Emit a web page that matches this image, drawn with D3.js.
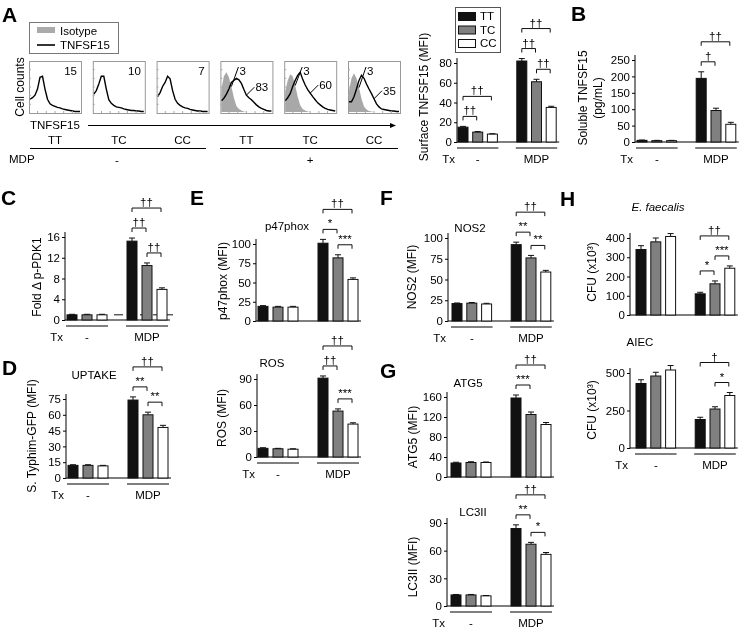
<!DOCTYPE html>
<html><head><meta charset="utf-8">
<script src="https://cdn.jsdelivr.net/npm/d3@7"></script>
<style>body{margin:0;background:#fff} svg{filter:grayscale(100%)} svg text{font-family:"Liberation Sans",Arial,Helvetica,sans-serif;fill:#000}</style>
</head><body><svg id="c" width="741" height="630"></svg>
<script>
// ---------------- DATA ----------------
const genotypes = ["TT","TC","CC"];
const treatments = ["-","MDP"];
// Panel A histograms (relative cell counts on 21 evenly spaced fluorescence bins)
const histGenotype = ["TT","TC","CC","TT","TC","CC"];
const histMDP = ["-","+"];
const histTnf = [
  [0.25,0.28,0.33,0.45,0.68,0.70,0.45,0.25,0.16,0.13,0.11,0.09,0.08,0.06,0.05,0.04,0.03,0.02,0.01,0.01,0.01],
  [0.35,0.42,0.55,0.70,0.70,0.45,0.24,0.17,0.13,0.10,0.09,0.08,0.06,0.05,0.04,0.03,0.03,0.02,0.02,0.01,0.01],
  [0.30,0.38,0.50,0.58,0.70,0.65,0.42,0.25,0.17,0.13,0.10,0.08,0.07,0.05,0.04,0.03,0.02,0.02,0.01,0.01,0.01],
  [0.22,0.27,0.35,0.45,0.58,0.62,0.66,0.63,0.56,0.44,0.33,0.28,0.24,0.19,0.14,0.10,0.07,0.05,0.03,0.02,0.02],
  [0.22,0.28,0.36,0.50,0.62,0.72,0.78,0.64,0.53,0.44,0.37,0.30,0.24,0.18,0.14,0.10,0.07,0.05,0.04,0.03,0.02],
  [0.20,0.20,0.30,0.45,0.62,0.72,0.66,0.55,0.45,0.36,0.26,0.16,0.10,0.06,0.05,0.04,0.03,0.02,0.02,0.01,0.01]
];
const histIso = [
  null, null, null,
  [0.45,0.70,0.78,0.68,0.50,0.28,0.12,0.06,0.03,0.01,0,0,0,0,0,0,0,0,0,0,0],
  [0.40,0.62,0.74,0.70,0.52,0.30,0.13,0.06,0.03,0.01,0,0,0,0,0,0,0,0,0,0,0],
  [0.42,0.66,0.76,0.66,0.48,0.26,0.11,0.05,0.02,0.01,0,0,0,0,0,0,0,0,0,0,0]
];
const histPctTnf = [15,10,7,83,60,35];
const histPctIso = [null,null,null,3,3,3];

// Bar panels: order TT,TC,CC (untreated) then TT,TC,CC (MDP)
const surfaceMean = [15,10,8,82,61,35];
const surfaceErr  = [0.8,0.6,0.4,2.5,2.5,1.2];
const surfaceTicks = [0,20,40,60,80];
const surfaceSig = [[0,1,"††"],[0,2,"††"],[3,4,"††"],[3,5,"††"],[4,5,"††"]];

const solubleMean = [5,4,4,194,96,54];
const solubleErr  = [1,1,1,20,7,6];
const solubleTicks = [0,50,100,150,200,250];
const solubleSig = [[3,4,"†"],[3,5,"††"]];

const pdk1Mean = [1,1,1,15.2,10.5,5.9];
const pdk1Err  = [0.1,0.1,0.1,0.6,0.5,0.3];
const pdk1Ticks = [0,4,8,12,16];
const pdk1Ref = 1;
const pdk1Sig = [[3,4,"††"],[4,5,"††"],[3,5,"††"]];

const uptakeMean = [12,12,11.5,74,60,48];
const uptakeErr  = [0.6,0.6,0.5,3,2.5,2];
const uptakeTicks = [0,15,30,45,60,75];
const uptakeSig = [[3,4,"**"],[4,5,"**"],[3,5,"††"]];

const p47Mean = [19,18,18,101,82,54];
const p47Err  = [1,1,1,5,4,2];
const p47Ticks = [0,25,50,75,100];
const p47Sig = [[3,4,"*"],[4,5,"***"],[3,5,"††"]];

const rosMean = [10,9.5,9,91,53,38];
const rosErr  = [0.7,0.5,0.5,2.5,2.5,1.5];
const rosTicks = [0,30,60,90];
const rosSig = [[3,4,"††"],[4,5,"***"],[3,5,"††"]];

const nos2Mean = [21,21.5,20.5,92,76,59];
const nos2Err  = [0.7,0.8,0.8,3,3,2];
const nos2Ticks = [0,25,50,75,100];
const nos2Sig = [[3,4,"**"],[4,5,"**"],[3,5,"††"]];

const atg5Mean = [28,29,29,158,125,105];
const atg5Err  = [1.5,1.5,1,6,5,4];
const atg5Ticks = [0,40,80,120,160];
const atg5Sig = [[3,4,"***"],[3,5,"††"]];

const lc3Mean = [12,12,11,84,67,56];
const lc3Err  = [0.5,0.5,0.4,4,2,2];
const lc3Ticks = [0,30,60,90];
const lc3Sig = [[3,4,"**"],[4,5,"*"],[3,5,"††"]];

const efMean = [340,380,408,110,162,243];
const efErr  = [20,20,15,8,15,12];
const efTicks = [0,100,200,300,400];
const efSig = [[3,4,"*"],[4,5,"***"],[3,5,"††"]];

const aiecMean = [430,480,520,190,260,350];
const aiecErr  = [25,25,30,15,15,20];
const aiecTicks = [0,250,500];
const aiecSig = [[4,5,"*"],[3,5,"†"]];

// ---------------- DRAWING ----------------
const svg = d3.select("#c");
svg.append("rect").attr("width",741).attr("height",630).attr("fill","#fff");
const FILL = ["#111","#808080","#fff"];

function letter(t,x,y){ svg.append("text").attr("x",x).attr("y",y).text(t)
  .style("font-size","21px").style("font-weight","bold"); }

function ylabel(lines,xs,cy){
  lines.forEach((t,k)=>{
    svg.append("text").attr("transform",`translate(${xs[k]},${cy}) rotate(-90)`)
      .attr("text-anchor","middle").attr("dy","0.35em").style("font-size","12px").text(t);
  });
}

function barPanel(o){
  const g = svg.append("g");
  const top = d3.max(o.ticks);
  const y = d3.scaleLinear().domain([0,top]).range([o.base,o.top]);
  const slots = d3.range(6).map(i=> i<3? i : i+1);
  const x = d3.scaleLinear().domain([0,1]).range([o.x0,o.x0+o.step]);
  const bw = 10;
  const xl = i => x(slots[i]);
  const right = xl(5)+bw+3;
  if(o.ref!==undefined){
    g.append("line").attr("x1",x(3)+2).attr("x2",right+3).attr("y1",y(o.ref)).attr("y2",y(o.ref))
      .attr("stroke","#111").attr("stroke-width",1).attr("stroke-dasharray","9,4");
  }
  const ax = g.append("g").attr("transform",`translate(${o.ax},0)`)
    .call(d3.axisLeft(y).tickValues(o.ticks).tickSize(3).tickPadding(2).tickSizeOuter(0));
  ax.select(".domain").remove();
  ax.selectAll("text").style("font-size","11.5px").attr("fill","#000")
    .style("font-family","'Liberation Sans',Arial,sans-serif");
  ax.selectAll("line").attr("stroke","#000");
  g.append("line").attr("x1",o.ax).attr("x2",o.ax).attr("y1",o.base+0.5).attr("y2",o.top-5).attr("stroke","#000");
  g.append("line").attr("x1",o.ax).attr("x2",right).attr("y1",o.base).attr("y2",o.base).attr("stroke","#000").attr("stroke-width",1.2);
  o.mean.forEach((v,i)=>{
    g.append("rect").attr("x",xl(i)).attr("y",y(v)).attr("width",bw).attr("height",o.base-y(v))
      .attr("fill",FILL[i%3]).attr("stroke","#111").attr("stroke-width",1);
    const yt = y(v+o.err[i]), cx = xl(i)+bw/2;
    g.append("line").attr("x1",cx).attr("x2",cx).attr("y1",y(v)).attr("y2",yt).attr("stroke","#111");
    g.append("line").attr("x1",cx-3).attr("x2",cx+3).attr("y1",yt).attr("y2",yt).attr("stroke","#111");
  });
  const tops = o.mean.map((v,i)=>y(v+o.err[i]));
  const placed = [];
  o.sig.slice().sort((a,b)=>(a[1]-a[0])-(b[1]-b[0])).forEach(([i,j,lab])=>{
    let yy = d3.min(d3.range(i,j+1),k=>tops[k]) - 10;
    placed.forEach(p=>{ if(p.i>=i && p.j<=j) yy = Math.min(yy,p.y-20); });
    placed.push({i,j,y:yy});
    const x1 = xl(i)+5, x2 = xl(j)+4;
    g.append("path").attr("d",`M${x1},${yy+4}V${yy}H${x2}V${yy+4}`).attr("fill","none").attr("stroke","#111");
    g.append("text").attr("x",(x1+x2)/2).attr("y",yy-2).attr("text-anchor","middle")
      .style("font-size","11.5px").text(lab);
  });
  if(o.tx){
    [0,1].forEach(gi=>{
      const a = xl(gi*3)-1, b = xl(gi*3+2)+bw+1;
      g.append("line").attr("x1",a).attr("x2",b).attr("y1",o.base+6).attr("y2",o.base+6).attr("stroke","#000");
      g.append("text").attr("x",(a+b)/2).attr("y",o.base+21).attr("text-anchor","middle")
        .style("font-size","11.5px").text(treatments[gi]);
    });
    g.append("text").attr("x",o.ax-2).attr("y",o.base+21).attr("text-anchor","end").style("font-size","11.5px").text("Tx");
  }
  if(o.title){
    g.append("text").attr("x",o.title[1]).attr("y",o.title[2]).attr("text-anchor","middle")
      .style("font-size","11.5px").style("font-style",o.italic?"italic":"normal").text(o.title[0]);
  }
  ylabel(o.ylab,o.ylx,o.ylc);
}

// ---------- Panel A histograms ----------
letter("A",2,22);
svg.append("rect").attr("x",29.5).attr("y",22.5).attr("width",89).attr("height",31).attr("fill","none").attr("stroke","#777");
svg.append("rect").attr("x",37).attr("y",27).attr("width",18).attr("height",6).attr("fill","#aaa");
svg.append("text").attr("x",60).attr("y",35).style("font-size","11.5px").text("Isotype");
svg.append("line").attr("x1",37).attr("x2",55).attr("y1",45).attr("y2",45).attr("stroke","#000").attr("stroke-width",1.6);
svg.append("text").attr("x",60).attr("y",49).style("font-size","11.5px").text("TNFSF15");

const boxW = 52, boxH = 52, boxTop = 61;
const boxLeft = i => 29 + i*63.8;
histTnf.forEach((arr,i)=>{
  const L = boxLeft(i);
  const hx = d3.scaleLinear().domain([0,arr.length-1]).range([L+1,L+boxW-1]);
  const hy = d3.scaleLinear().domain([0,1]).range([boxTop+boxH-1,boxTop]);
  const g = svg.append("g");
  if(histIso[i]){
    g.append("path").datum(histIso[i]).attr("fill","#a8a8a8")
      .attr("d",d3.area().x((d,k)=>hx(k)).y0(hy(0)).y1(d=>hy(d)));
  }
  g.append("path").datum(arr).attr("fill","none").attr("stroke","#000").attr("stroke-width",1.4)
    .attr("d",d3.line().x((d,k)=>hx(k)).y(d=>hy(d)));
  g.append("rect").attr("x",L+0.5).attr("y",boxTop+0.5).attr("width",boxW).attr("height",boxH)
    .attr("fill","none").attr("stroke","#999");
  d3.range(1,6).forEach(k=>{
    g.append("line").attr("x1",L+k*boxW/6).attr("x2",L+k*boxW/6).attr("y1",boxTop+boxH).attr("y2",boxTop+boxH-2).attr("stroke","#aaa");
    g.append("line").attr("x1",L).attr("x2",L+2).attr("y1",boxTop+k*boxH/6).attr("y2",boxTop+k*boxH/6).attr("stroke","#aaa");
  });
  if(histPctIso[i]===null){
    g.append("text").attr("x",L+boxW-4).attr("y",boxTop+14).attr("text-anchor","end").style("font-size","11.5px").text(histPctTnf[i]);
  } else {
    const ix = hx(4), iy = hy(histIso[i][4]);
    g.append("line").attr("x1",ix).attr("y1",iy).attr("x2",L+18).attr("y2",boxTop+6).attr("stroke","#000");
    g.append("text").attr("x",L+19).attr("y",boxTop+14).style("font-size","11.5px").text(histPctIso[i]);
    const k = 10, tx0 = hx(k), ty0 = hy(arr[k]);
    g.append("line").attr("x1",tx0).attr("y1",ty0).attr("x2",tx0+8).attr("y2",ty0-8).attr("stroke","#000");
    g.append("text").attr("x",tx0+9).attr("y",ty0-4).style("font-size","11.5px").text(histPctTnf[i]);
  }
  svg.append("text").attr("x",L+boxW/2).attr("y",144).attr("text-anchor","middle").style("font-size","11.5px").text(histGenotype[i]);
});
svg.append("text").attr("transform","translate(20,87) rotate(-90)").attr("text-anchor","middle").attr("dy","0.35em").style("font-size","12px").text("Cell counts");
svg.append("text").attr("x",30).attr("y",129).style("font-size","11.5px").text("TNFSF15");
svg.append("line").attr("x1",88).attr("x2",393).attr("y1",125.5).attr("y2",125.5).attr("stroke","#000");
svg.append("path").attr("d","M396,125.5 L390,123 L390,128 Z").attr("fill","#000");
[[30,206,117],[220,398,310]].forEach(([a,b,c],gi)=>{
  svg.append("line").attr("x1",a).attr("x2",b).attr("y1",148.5).attr("y2",148.5).attr("stroke","#000");
  svg.append("text").attr("x",c).attr("y",164).attr("text-anchor","middle").style("font-size","11.5px").text(histMDP[gi]);
});
svg.append("text").attr("x",9).attr("y",163).style("font-size","11.5px").text("MDP");

svg.append("rect").attr("x",455.5).attr("y",7.5).attr("width",45).attr("height",45).attr("fill","#fff").attr("stroke","#555");
genotypes.forEach((gname,i)=>{
  svg.append("rect").attr("x",458.5).attr("y",12.5+i*13.5).attr("width",17).attr("height",8).attr("fill",FILL[i]).attr("stroke","#111");
  svg.append("text").attr("x",480).attr("y",20+i*13.5).style("font-size","11.5px").text(gname);
});

barPanel({mean:surfaceMean,err:surfaceErr,ticks:surfaceTicks,sig:surfaceSig,ax:457,base:142,top:63,x0:458,step:14.7,tx:true,
  ylab:["Surface TNFSF15 (MFI)"],ylx:[424],ylc:97});
letter("B",571,21);
barPanel({mean:solubleMean,err:solubleErr,ticks:solubleTicks,sig:solubleSig,ax:635,base:142,top:60,x0:637,step:14.8,tx:true,
  ylab:["Soluble TNFSF15","(pg/mL)"],ylx:[583,598],ylc:98});
letter("C",1,205);
barPanel({mean:pdk1Mean,err:pdk1Err,ticks:pdk1Ticks,sig:pdk1Sig,ref:pdk1Ref,ax:65,base:320,top:237,x0:67,step:15,tx:true,
  ylab:["Fold Δ p-PDK1"],ylx:[37],ylc:277});
letter("D",2,375);
barPanel({mean:uptakeMean,err:uptakeErr,ticks:uptakeTicks,sig:uptakeSig,ax:66,base:478,top:399,x0:68,step:15,tx:true,
  title:["UPTAKE",94,379],ylab:["S. Typhim-GFP (MFI)"],ylx:[32],ylc:436});
letter("E",190,205);
barPanel({mean:p47Mean,err:p47Err,ticks:p47Ticks,sig:p47Sig,ax:256,base:321,top:244,x0:258,step:15,tx:false,
  title:["p47phox",287,230],ylab:["p47phox (MFI)"],ylx:[223],ylc:281});
barPanel({mean:rosMean,err:rosErr,ticks:rosTicks,sig:rosSig,ax:257,base:457,top:379,x0:258,step:15,tx:true,
  title:["ROS",272,367],ylab:["ROS (MFI)"],ylx:[222],ylc:418});
letter("F",380,205);
barPanel({mean:nos2Mean,err:nos2Err,ticks:nos2Ticks,sig:nos2Sig,ax:448,base:321,top:238,x0:452,step:14.8,tx:true,
  title:["NOS2",470,232],ylab:["NOS2 (MFI)"],ylx:[412],ylc:277});
letter("G",380,378);
barPanel({mean:atg5Mean,err:atg5Err,ticks:atg5Ticks,sig:atg5Sig,ax:447,base:477,top:397,x0:451,step:15,tx:false,
  title:["ATG5",468,387],ylab:["ATG5 (MFI)"],ylx:[413],ylc:437});
barPanel({mean:lc3Mean,err:lc3Err,ticks:lc3Ticks,sig:lc3Sig,ax:447,base:606,top:523,x0:451,step:15,tx:true,
  title:["LC3II",473,516],ylab:["LC3II (MFI)"],ylx:[413],ylc:567});
letter("H",560,206);
barPanel({mean:efMean,err:efErr,ticks:efTicks,sig:efSig,ax:630,base:315,top:238,x0:636,step:14.8,tx:false,
  title:["E. faecalis",658,211],italic:true,ylab:["CFU (x10³)"],ylx:[592],ylc:272});
barPanel({mean:aiecMean,err:aiecErr,ticks:aiecTicks,sig:aiecSig,ax:630,base:448,top:373,x0:636,step:14.8,tx:true,
  title:["AIEC",640,346],ylab:["CFU (x10³)"],ylx:[592],ylc:410});
</script></body></html>
